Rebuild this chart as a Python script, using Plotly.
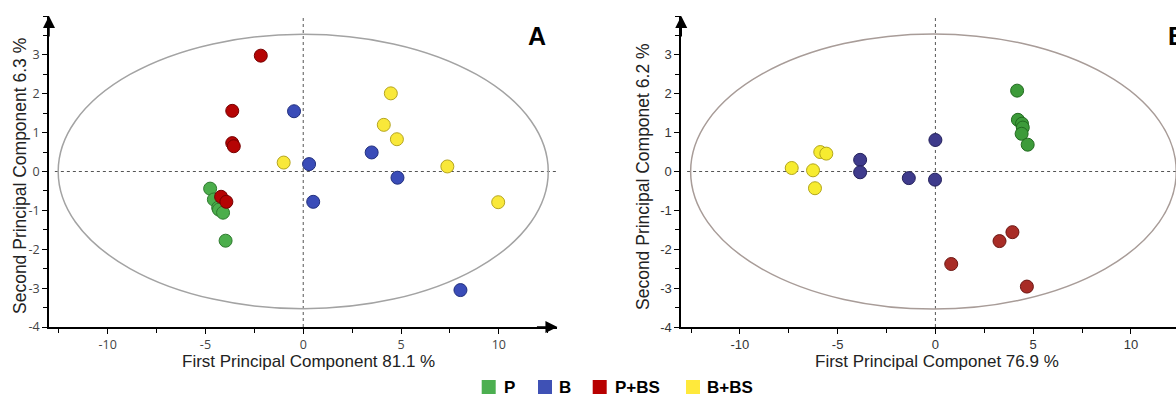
import plotly.graph_objects as go

# ---------------- data ----------------
groups = ["P", "B", "P+BS", "B+BS"]

a_P_x = [-4.76, -4.57, -4.35, -4.31, -4.10, -3.97]
a_P_y = [-0.44, -0.72, -0.93, -0.98, -1.06, -1.78]
a_B_x = [-0.47, 0.30, 3.50, 4.82, 0.51, 8.04]
a_B_y = [1.55, 0.19, 0.49, -0.16, -0.78, -3.05]
a_PBS_x = [-2.17, -3.63, -3.63, -3.55, -4.20, -3.93]
a_PBS_y = [2.98, 1.56, 0.73, 0.65, -0.65, -0.78]
a_BBS_x = [4.48, 4.12, 4.79, -1.00, 7.37, 9.97]
a_BBS_y = [2.01, 1.20, 0.83, 0.23, 0.13, -0.79]

b_P_x = [4.18, 4.22, 4.43, 4.47, 4.41, 4.72]
b_P_y = [2.08, 1.33, 1.23, 1.13, 0.97, 0.69]
b_B_x = [0.00, -3.85, -3.85, -1.36, -0.02]
b_B_y = [0.81, 0.30, -0.02, -0.17, -0.21]
b_PBS_x = [3.94, 3.28, 0.81, 4.68]
b_PBS_y = [-1.56, -1.79, -2.38, -2.96]
b_BBS_x = [-5.89, -5.58, -7.35, -6.26, -6.16]
b_BBS_y = [0.50, 0.46, 0.09, 0.03, -0.43]

# confidence ellipses: center x, center y, semi-axis x, semi-axis y
ellipse_a = [0.0, 0.0, 12.53, 3.53]
ellipse_b = [-0.1, 0.0, 12.42, 3.54]

x_tickvals = [-10, -5, 0, 5, 10]
x_ticktext = ["-10", "-5", "0", "5", "10"]
y_tickvals = [-4, -3, -2, -1, 0, 1, 2, 3]
y_ticktext = ["-4", "-3", "-2", "-1", "0", "1", "2", "3"]

title_ax_a = "First Principal Component 81.1 %"
title_ay_a = "Second Principal Component 6.3 %"
title_ax_b = "First Principal Componet 76.9 %"
title_ay_b = "Second Principal Componet 6.2 %"

# ---------------- styles ----------------
W, H = 1176, 397
ML, MR, MT, MB = 49, 0, 16, 70
PW, PH = W - ML - MR, H - MT - MB


def px(x):
    return (x - ML) / PW


def py(y):
    return (H - MB - y) / PH


colors_a = {"P": ("#4cae4c", "#2f7a2f"), "B": ("#3a4cb8", "#22307e"),
            "P+BS": ("#b50404", "#760000"), "B+BS": ("#f9e83a", "#b5a521")}
colors_b = {"P": ("#3d9b3a", "#226a20"), "B": ("#3f3b8c", "#24215c"),
            "P+BS": ("#a82c26", "#6c1713"), "B+BS": ("#f7ec30", "#b3a61c")}
legend_colors = {"P": "#4caf50", "B": "#3f51b5", "P+BS": "#b80000", "B+BS": "#ffe93b"}

data_a = {"P": (a_P_x, a_P_y), "B": (a_B_x, a_B_y), "P+BS": (a_PBS_x, a_PBS_y), "B+BS": (a_BBS_x, a_BBS_y)}
data_b = {"P": (b_P_x, b_P_y), "B": (b_B_x, b_B_y), "P+BS": (b_PBS_x, b_PBS_y), "B+BS": (b_BBS_x, b_BBS_y)}

fig = go.Figure()
for g in groups:
    x, y = data_a[g]
    fill, line = colors_a[g]
    fig.add_trace(go.Scatter(x=x, y=y, mode="markers", name=g, showlegend=False,
                             marker=dict(size=13, color=fill, line=dict(color=line, width=1)),
                             xaxis="x", yaxis="y"))
for g in groups:
    x, y = data_b[g]
    fill, line = colors_b[g]
    fig.add_trace(go.Scatter(x=x, y=y, mode="markers", name=g, showlegend=False,
                             marker=dict(size=13, color=fill, line=dict(color=line, width=1)),
                             xaxis="x2", yaxis="y2"))

axis_common = dict(showgrid=False, zeroline=False, showline=True, linecolor="black", linewidth=1.6,
                   ticks="outside", ticklen=5, tickwidth=1.2, tickcolor="black",
                   fixedrange=True)
font_a = dict(family="Open Sans, sans-serif", size=12.5, color="#444")
font_b = dict(family="Liberation Sans, Arial", size=13, color="#333")

xminor = dict(dtick=2.5, tick0=0, ticks="outside", ticklen=4, tickwidth=1.2, tickcolor="black")
yminor = dict(dtick=0.5, tick0=0, ticks="outside", ticklen=4, tickwidth=1.2, tickcolor="black")

xa = dict(axis_common, tickmode="array", tickvals=x_tickvals, ticktext=x_ticktext, minor=xminor)
ya = dict(axis_common, tickmode="array", tickvals=y_tickvals, ticktext=y_ticktext, minor=yminor,
          range=[-4, 4.0])

fig.update_layout(
    width=W, height=H, margin=dict(l=ML, r=MR, t=MT, b=MB),
    paper_bgcolor="white", plot_bgcolor="white", showlegend=False,
    xaxis=dict(xa, domain=[0, px(557.45)], range=[-13, 13], anchor="y", tickfont=font_a),
    yaxis=dict(ya, domain=[0, 1], anchor="x", tickfont=font_a),
    xaxis2=dict(xa, domain=[px(681.25), 1], range=[-13, (1176 - 935.4) / 19.55], anchor="y2",
                tickfont=font_b),
    yaxis2=dict(ya, domain=[0, 1], anchor="x2", tickfont=font_b),
)

shapes = []
# dotted zero reference lines
for xr, yr, xlo, xhi in [("x", "y", -12.7, 13), ("x2", "y2", -12.7, 13)]:
    shapes.append(dict(type="line", xref=xr, yref=yr, x0=xlo, x1=xhi, y0=0, y1=0,
                       line=dict(color="#555", width=1, dash="dot"), layer="below"))
    shapes.append(dict(type="line", xref=xr, yref=yr, x0=0, x1=0, y0=-4, y1=4.0,
                       line=dict(color="#555", width=1, dash="dot"), layer="below"))
# ellipses
for xr, yr, e, col in [("x", "y", ellipse_a, "#a3a3a3"), ("x2", "y2", ellipse_b, "#a89c98")]:
    cx, cy, ax_, ay_ = e
    shapes.append(dict(type="circle", xref=xr, yref=yr, x0=cx - ax_, x1=cx + ax_, y0=cy - ay_, y1=cy + ay_,
                       line=dict(color=col, width=1.5), layer="below"))

# legend squares
leg_sq_x = [481.7, 538.0, 592.7, 686.0]
leg_txt_x = [502, 557, 613, 705]
for g, sx in zip(groups, leg_sq_x):
    shapes.append(dict(type="rect", xref="paper", yref="paper", x0=px(sx), x1=px(sx + 14),
                       y0=py(394), y1=py(380), fillcolor=legend_colors[g], line=dict(width=0)))

annotations = []
for g, tx in zip(groups, leg_txt_x):
    annotations.append(dict(text=g, xref="paper", yref="paper", x=px(tx), y=py(387.5),
                            xanchor="left", yanchor="middle", showarrow=False,
                            font=dict(family="Liberation Sans, Arial", size=17, color="black", weight="bold")))

xtitle_font = dict(family="Liberation Sans, Arial", size=17, color="#222")
ytitle_font = dict(family="Liberation Sans, Arial", size=17.5, color="#222")
annotations += [
    dict(text=title_ax_a, xref="paper", yref="paper", x=px(308), y=py(361), showarrow=False,
         xanchor="center", yanchor="middle", font=xtitle_font),
    dict(text=title_ax_b, xref="paper", yref="paper", x=px(937), y=py(361), showarrow=False,
         xanchor="center", yanchor="middle", font=xtitle_font),
    dict(text=title_ay_a, xref="paper", yref="paper", x=px(20), y=py(176), showarrow=False,
         textangle=-90, xanchor="center", yanchor="middle", font=ytitle_font),
    dict(text=title_ay_b, xref="paper", yref="paper", x=px(643), y=py(176), showarrow=False,
         textangle=-90, xanchor="center", yanchor="middle", font=ytitle_font),
    dict(text="A", xref="paper", yref="paper", x=px(536.5), y=py(36), showarrow=False,
         xanchor="center", yanchor="middle",
         font=dict(family="Liberation Sans, Arial", size=25, color="black", weight="bold")),
    dict(text="B", xref="paper", yref="paper", x=px(1166), y=py(36), showarrow=False,
         xanchor="left", yanchor="middle",
         font=dict(family="Liberation Sans, Arial", size=25, color="black", weight="bold")),
]
# axis arrows
arrow = dict(text="", showarrow=True, arrowhead=2, arrowsize=1.6, arrowwidth=1.5,
             arrowcolor="black", standoff=0, startstandoff=0)
annotations += [
    dict(arrow, xref="x", yref="y", x=-13, y=4.0, ax=0, ay=22),
    dict(arrow, xref="x", yref="y", x=13, y=-4, ax=-22, ay=0),
    dict(arrow, xref="x2", yref="y2", x=-13, y=4.0, ax=0, ay=22),
]

fig.update_layout(shapes=shapes, annotations=annotations)
fig.write_html("out.html", config={"displayModeBar": False},
               post_script="document.body.style.margin='0';document.body.style.overflow='hidden';")
